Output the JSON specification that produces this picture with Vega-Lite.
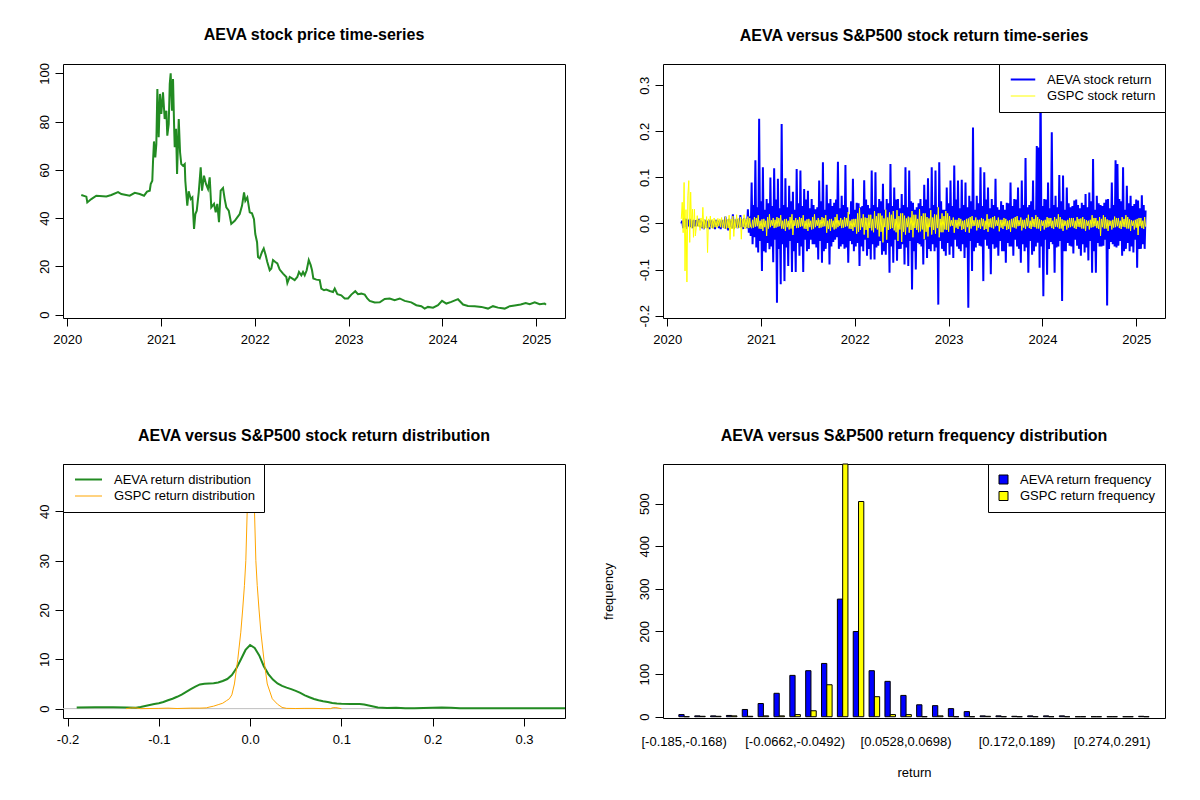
{
  "$schema": "https://vega.github.io/schema/vega-lite/v6.json",
  "padding": {"left": 37, "top": 26, "right": 5, "bottom": 5},
  "config": {
    "font": "Liberation Sans",
    "view": {"stroke": "black", "strokeWidth": 1},
    "axis": {
      "domain": false, "grid": false, "tickColor": "black", "tickSize": 8,
      "labelColor": "black", "labelFontSize": 13, "labelFont": "Liberation Sans",
      "labelFlush": false, "labelOverlap": false, "labelPadding": 7,
      "titleFont": "Liberation Sans", "titleFontSize": 13, "titleFontWeight": "normal", "titleColor": "black"
    },
    "axisY": {"labelAngle": -90, "labelAlign": "center", "labelBaseline": "bottom", "labelPadding": 4},
    "title": {"font": "Liberation Sans", "fontSize": 16, "fontWeight": "bold", "color": "black", "offset": 20, "anchor": "middle"},
    "legend": {"labelFont": "Liberation Sans", "labelFontSize": 13, "labelColor": "black"}
  },
  "columns": 2,
  "spacing": {"row": 146, "column": 98},
  "bounds": "flush",
  "resolve": {
    "scale": {"x": "independent", "y": "independent", "color": "independent", "strokeWidth": "independent", "xOffset": "independent"},
    "axis": {"x": "independent", "y": "independent"},
    "legend": {"color": "independent", "strokeWidth": "independent"}
  },
  "concat": [
    {
      "width": 502, "height": 254,
      "title": "AEVA stock price time-series",
      "data": {"values": [
        {"t":2020.150,"p":49.6},{"t":2020.204,"p":48.9},{"t":2020.214,"p":46.5},{"t":2020.257,"p":47.9},{"t":2020.310,"p":49.3},
        {"t":2020.417,"p":49.0},{"t":2020.470,"p":49.6},{"t":2020.542,"p":50.8},{"t":2020.577,"p":50.0},{"t":2020.666,"p":49.3},
        {"t":2020.720,"p":50.5},{"t":2020.773,"p":50.0},{"t":2020.819,"p":49.3},{"t":2020.851,"p":51.0},{"t":2020.880,"p":51.4},
        {"t":2020.890,"p":54.1},{"t":2020.907,"p":55.5},{"t":2020.915,"p":63.8},{"t":2020.925,"p":71.8},{"t":2020.939,"p":65.2},
        {"t":2020.950,"p":70.7},{"t":2020.961,"p":93.5},{"t":2020.975,"p":73.5},{"t":2020.989,"p":91.5},{"t":2021.003,"p":83.2},
        {"t":2021.021,"p":92.2},{"t":2021.039,"p":81.1},{"t":2021.057,"p":84.5},{"t":2021.067,"p":74.2},{"t":2021.082,"p":79.0},
        {"t":2021.093,"p":95.6},{"t":2021.103,"p":100.0},{"t":2021.117,"p":84.5},{"t":2021.128,"p":97.7},{"t":2021.139,"p":79.0},
        {"t":2021.146,"p":69.4},{"t":2021.160,"p":77.0},{"t":2021.171,"p":58.3},{"t":2021.189,"p":81.1},{"t":2021.203,"p":67.3},
        {"t":2021.216,"p":62.4},{"t":2021.235,"p":61.7},{"t":2021.253,"p":62.4},{"t":2021.259,"p":55.5},{"t":2021.280,"p":45.2},
        {"t":2021.295,"p":51.1},{"t":2021.317,"p":47.9},{"t":2021.334,"p":48.6},{"t":2021.352,"p":35.5},{"t":2021.366,"p":41.7},
        {"t":2021.381,"p":43.1},{"t":2021.402,"p":50.7},{"t":2021.423,"p":61.1},{"t":2021.437,"p":51.4},{"t":2021.458,"p":57.6},
        {"t":2021.480,"p":54.1},{"t":2021.501,"p":52.1},{"t":2021.519,"p":56.9},{"t":2021.536,"p":44.5},{"t":2021.565,"p":45.9},
        {"t":2021.583,"p":42.4},{"t":2021.600,"p":45.9},{"t":2021.618,"p":38.3},{"t":2021.636,"p":51.4},{"t":2021.661,"p":52.5},
        {"t":2021.679,"p":47.9},{"t":2021.696,"p":44.5},{"t":2021.722,"p":43.1},{"t":2021.749,"p":37.6},{"t":2021.786,"p":38.9},
        {"t":2021.813,"p":40.3},{"t":2021.839,"p":41.7},{"t":2021.864,"p":45.2},{"t":2021.885,"p":50.7},{"t":2021.899,"p":47.2},
        {"t":2021.920,"p":48.6},{"t":2021.946,"p":42.4},{"t":2021.970,"p":42.0},{"t":2021.991,"p":39.6},{"t":2022.005,"p":33.4},
        {"t":2022.024,"p":30.0},{"t":2022.034,"p":23.9},{"t":2022.052,"p":23.3},{"t":2022.077,"p":26.0},{"t":2022.095,"p":27.4},
        {"t":2022.116,"p":24.6},{"t":2022.133,"p":21.8},{"t":2022.159,"p":18.4},{"t":2022.176,"p":19.1},{"t":2022.194,"p":22.6},
        {"t":2022.219,"p":21.8},{"t":2022.240,"p":21.2},{"t":2022.265,"p":18.7},{"t":2022.301,"p":17.0},{"t":2022.336,"p":15.6},
        {"t":2022.347,"p":13.1},{"t":2022.372,"p":15.6},{"t":2022.397,"p":15.0},{"t":2022.425,"p":14.3},{"t":2022.453,"p":15.6},
        {"t":2022.471,"p":17.7},{"t":2022.496,"p":16.3},{"t":2022.514,"p":17.7},{"t":2022.532,"p":16.3},{"t":2022.553,"p":18.4},
        {"t":2022.575,"p":22.6},{"t":2022.596,"p":20.5},{"t":2022.610,"p":18.4},{"t":2022.624,"p":15.0},{"t":2022.656,"p":14.5},
        {"t":2022.692,"p":14.3},{"t":2022.709,"p":10.8},{"t":2022.738,"p":10.1},{"t":2022.762,"p":10.4},{"t":2022.799,"p":9.8},
        {"t":2022.834,"p":9.4},{"t":2022.852,"p":10.8},{"t":2022.880,"p":8.5},{"t":2022.922,"p":8.0},{"t":2022.958,"p":6.7},
        {"t":2022.994,"p":6.7},{"t":2023.029,"p":8.3},{"t":2023.071,"p":9.7},{"t":2023.100,"p":8.5},{"t":2023.135,"p":8.7},
        {"t":2023.172,"p":8.3},{"t":2023.199,"p":6.7},{"t":2023.225,"p":5.7},{"t":2023.278,"p":5.0},{"t":2023.332,"p":5.1},
        {"t":2023.385,"p":6.5},{"t":2023.438,"p":6.7},{"t":2023.491,"p":6.0},{"t":2023.545,"p":6.7},{"t":2023.598,"p":5.7},
        {"t":2023.668,"p":5.1},{"t":2023.722,"p":3.9},{"t":2023.775,"p":3.5},{"t":2023.811,"p":2.5},{"t":2023.846,"p":3.2},
        {"t":2023.900,"p":2.9},{"t":2023.953,"p":3.9},{"t":2023.996,"p":5.7},{"t":2024.042,"p":4.6},{"t":2024.095,"p":5.3},
        {"t":2024.166,"p":6.4},{"t":2024.220,"p":4.2},{"t":2024.273,"p":3.6},{"t":2024.344,"p":3.5},{"t":2024.415,"p":3.2},
        {"t":2024.486,"p":2.5},{"t":2024.539,"p":3.5},{"t":2024.593,"p":2.9},{"t":2024.664,"p":2.5},{"t":2024.718,"p":3.5},
        {"t":2024.771,"p":3.8},{"t":2024.835,"p":4.2},{"t":2024.888,"p":4.8},{"t":2024.931,"p":4.3},{"t":2024.984,"p":5.1},
        {"t":2025.037,"p":4.3},{"t":2025.090,"p":4.6},{"t":2025.104,"p":4.1}
      ]},
      "mark": {"type": "line", "color": "#228B22", "strokeWidth": 2},
      "encoding": {
        "x": {"field": "t", "type": "quantitative", "scale": {"domain": [2019.955, 2025.307], "nice": false, "zero": false},
              "axis": {"values": [2020, 2021, 2022, 2023, 2024, 2025], "format": "d", "title": null}},
        "y": {"field": "p", "type": "quantitative", "scale": {"domain": [-1.4, 103.9], "nice": false, "zero": false},
              "axis": {"values": [0, 20, 40, 60, 80, 100], "title": null}}
      }
    },
    {
      "width": 502, "height": 254,
      "title": "AEVA versus S&P500 stock return time-series",
      "data": {"values": [
        {"t":2020.15,"a":0.000,"g":0.010},{"t":2020.16,"a":0.006,"g":0.046},{"t":2020.17,"a":-0.010,"g":-0.020},{"t":2020.18,"a":0.012,"g":0.089},
        {"t":2020.19,"a":-0.008,"g":-0.103},{"t":2020.20,"a":0.010,"g":0.030},{"t":2020.21,"a":-0.012,"g":-0.127},{"t":2020.22,"a":0.008,"g":0.060},
        {"t":2020.23,"a":-0.006,"g":0.093},{"t":2020.24,"a":0.010,"g":-0.041},{"t":2020.25,"a":-0.008,"g":0.068},{"t":2020.26,"a":0.006,"g":-0.010},
        {"t":2020.27,"a":-0.010,"g":0.031},{"t":2020.28,"a":0.008,"g":-0.030},{"t":2020.29,"a":-0.006,"g":0.031},{"t":2020.30,"a":0.007,"g":-0.027},
        {"t":2020.31,"a":-0.006,"g":-0.008},{"t":2020.32,"a":0.008,"g":0.017},{"t":2020.33,"a":-0.005,"g":-0.007},{"t":2020.34,"a":0.010,"g":0.009},
        {"t":2020.35,"a":-0.008,"g":-0.015},{"t":2020.36,"a":0.006,"g":0.012},{"t":2020.37,"a":-0.010,"g":-0.009},{"t":2020.38,"a":0.004,"g":0.035},
        {"t":2020.39,"a":-0.012,"g":-0.012},{"t":2020.40,"a":0.008,"g":0.008},{"t":2020.41,"a":-0.005,"g":-0.010},{"t":2020.42,"a":0.006,"g":0.015},
        {"t":2020.43,"a":-0.010,"g":-0.063},{"t":2020.44,"a":0.004,"g":0.010},{"t":2020.45,"a":-0.012,"g":-0.008},{"t":2020.46,"a":0.008,"g":0.016},
        {"t":2020.47,"a":-0.005,"g":-0.010},{"t":2020.48,"a":0.006,"g":0.009},{"t":2020.49,"a":-0.010,"g":-0.011},{"t":2020.50,"a":0.004,"g":0.012},
        {"t":2020.51,"a":-0.012,"g":-0.008},{"t":2020.52,"a":0.008,"g":0.007},{"t":2020.53,"a":-0.005,"g":-0.009},{"t":2020.54,"a":0.006,"g":0.011},
        {"t":2020.55,"a":-0.010,"g":-0.006},{"t":2020.56,"a":0.004,"g":0.010},{"t":2020.57,"a":-0.012,"g":-0.008},{"t":2020.58,"a":0.008,"g":0.013},
        {"t":2020.59,"a":-0.005,"g":-0.009},{"t":2020.60,"a":0.006,"g":0.008},{"t":2020.61,"a":-0.010,"g":-0.011},{"t":2020.62,"a":0.015,"g":0.015},
        {"t":2020.63,"a":-0.012,"g":-0.012},{"t":2020.64,"a":0.008,"g":0.009},{"t":2020.65,"a":-0.015,"g":-0.010},{"t":2020.66,"a":0.010,"g":0.018},
        {"t":2020.67,"a":-0.008,"g":-0.035},{"t":2020.68,"a":0.006,"g":0.010},{"t":2020.69,"a":-0.010,"g":-0.012},{"t":2020.70,"a":0.020,"g":0.016},
        {"t":2020.71,"a":-0.012,"g":-0.028},{"t":2020.72,"a":0.008,"g":0.009},{"t":2020.73,"a":-0.006,"g":-0.010},{"t":2020.74,"a":0.010,"g":0.019},
        {"t":2020.75,"a":-0.010,"g":-0.010},{"t":2020.76,"a":0.006,"g":0.011},{"t":2020.77,"a":-0.008,"g":-0.009},{"t":2020.78,"a":0.018,"g":0.014},
        {"t":2020.79,"a":-0.008,"g":-0.034},{"t":2020.80,"a":0.006,"g":0.010},{"t":2020.81,"a":-0.012,"g":-0.008},{"t":2020.82,"a":0.012,"g":0.019},
        {"t":2020.83,"a":-0.006,"g":-0.012},{"t":2020.84,"a":0.008,"g":0.010},{"t":2020.85,"a":-0.010,"g":-0.009},{"t":2020.86,"a":0.031,"g":0.015},
        {"t":2020.87,"a":-0.020,"g":-0.010},{"t":2020.88,"a":0.015,"g":0.012},{"t":2020.89,"a":-0.027,"g":-0.008},
        {"t":2020.90,"a":0.089,"g":-0.010},{"t":2020.91,"a":-0.045,"g":0.008},{"t":2020.92,"a":0.040,"g":-0.009},{"t":2020.93,"a":-0.030,"g":0.014},
        {"t":2020.94,"a":0.137,"g":-0.007},{"t":2020.95,"a":-0.052,"g":0.012},{"t":2020.96,"a":0.035,"g":-0.006},{"t":2020.97,"a":-0.063,"g":0.018},
        {"t":2020.98,"a":0.227,"g":-0.011},{"t":2020.99,"a":-0.038,"g":0.006},{"t":2021.00,"a":0.048,"g":-0.012},{"t":2021.01,"a":-0.103,"g":0.009},
        {"t":2021.02,"a":0.122,"g":-0.016},{"t":2021.03,"a":-0.060,"g":0.010},{"t":2021.04,"a":0.030,"g":-0.008},{"t":2021.05,"a":-0.063,"g":0.006},
        {"t":2021.06,"a":0.053,"g":-0.027},{"t":2021.07,"a":-0.042,"g":0.014},{"t":2021.08,"a":0.044,"g":-0.011},{"t":2021.09,"a":-0.056,"g":0.020},
        {"t":2021.10,"a":0.100,"g":-0.008},{"t":2021.11,"a":-0.050,"g":0.007},{"t":2021.12,"a":0.038,"g":-0.005},{"t":2021.13,"a":-0.084,"g":0.012},
        {"t":2021.14,"a":0.120,"g":-0.010},{"t":2021.15,"a":-0.035,"g":0.008},{"t":2021.16,"a":0.052,"g":-0.009},{"t":2021.17,"a":-0.172,"g":0.014},
        {"t":2021.18,"a":0.097,"g":-0.007},{"t":2021.19,"a":-0.055,"g":0.012},{"t":2021.20,"a":0.033,"g":-0.006},{"t":2021.21,"a":-0.132,"g":0.018},
        {"t":2021.22,"a":0.216,"g":-0.011},{"t":2021.23,"a":-0.045,"g":0.006},{"t":2021.24,"a":0.040,"g":-0.012},{"t":2021.25,"a":-0.125,"g":0.009},
        {"t":2021.26,"a":0.098,"g":-0.016},{"t":2021.27,"a":-0.052,"g":0.010},{"t":2021.28,"a":0.035,"g":-0.008},{"t":2021.29,"a":-0.092,"g":0.006},
        {"t":2021.30,"a":0.082,"g":-0.013},{"t":2021.31,"a":-0.038,"g":0.014},{"t":2021.32,"a":0.048,"g":-0.011},{"t":2021.33,"a":-0.105,"g":0.020},
        {"t":2021.34,"a":0.069,"g":-0.025},{"t":2021.35,"a":-0.060,"g":0.007},{"t":2021.36,"a":0.030,"g":-0.005},{"t":2021.37,"a":-0.105,"g":0.012},
        {"t":2021.38,"a":0.118,"g":-0.010},{"t":2021.39,"a":-0.042,"g":0.008},{"t":2021.40,"a":0.044,"g":-0.009},{"t":2021.41,"a":-0.070,"g":0.014},
        {"t":2021.42,"a":0.115,"g":-0.007},{"t":2021.43,"a":-0.050,"g":0.012},{"t":2021.44,"a":0.038,"g":-0.006},{"t":2021.45,"a":-0.105,"g":0.018},
        {"t":2021.46,"a":0.075,"g":-0.011},{"t":2021.47,"a":-0.035,"g":0.006},{"t":2021.48,"a":0.052,"g":-0.012},{"t":2021.49,"a":-0.060,"g":0.009},
        {"t":2021.50,"a":0.071,"g":-0.016},{"t":2021.51,"a":-0.055,"g":0.010},{"t":2021.52,"a":0.033,"g":-0.008},{"t":2021.53,"a":-0.035,"g":0.006},
        {"t":2021.54,"a":0.053,"g":-0.013},{"t":2021.55,"a":-0.045,"g":0.014},{"t":2021.56,"a":0.040,"g":-0.011},{"t":2021.57,"a":-0.045,"g":0.020},
        {"t":2021.58,"a":0.031,"g":-0.008},{"t":2021.59,"a":-0.052,"g":0.007},{"t":2021.60,"a":0.035,"g":-0.005},{"t":2021.61,"a":-0.078,"g":0.012},
        {"t":2021.62,"a":0.093,"g":-0.010},{"t":2021.63,"a":-0.038,"g":0.008},{"t":2021.64,"a":0.048,"g":-0.009},{"t":2021.65,"a":-0.085,"g":0.014},
        {"t":2021.66,"a":0.133,"g":-0.007},{"t":2021.67,"a":-0.060,"g":0.012},{"t":2021.68,"a":0.030,"g":-0.006},{"t":2021.69,"a":-0.055,"g":0.018},
        {"t":2021.70,"a":0.084,"g":-0.020},{"t":2021.71,"a":-0.042,"g":0.006},{"t":2021.72,"a":0.044,"g":-0.012},{"t":2021.73,"a":-0.089,"g":0.009},
        {"t":2021.74,"a":0.053,"g":-0.016},{"t":2021.75,"a":-0.050,"g":0.010},{"t":2021.76,"a":0.038,"g":-0.008},{"t":2021.77,"a":-0.040,"g":0.006},
        {"t":2021.78,"a":0.045,"g":-0.013},{"t":2021.79,"a":-0.035,"g":0.014},{"t":2021.80,"a":0.052,"g":-0.011},{"t":2021.81,"a":-0.030,"g":0.020},
        {"t":2021.82,"a":0.134,"g":-0.008},{"t":2021.83,"a":-0.055,"g":0.007},{"t":2021.84,"a":0.033,"g":-0.005},{"t":2021.85,"a":-0.050,"g":0.012},
        {"t":2021.86,"a":0.060,"g":-0.010},{"t":2021.87,"a":-0.045,"g":0.008},{"t":2021.88,"a":0.040,"g":-0.009},{"t":2021.89,"a":-0.055,"g":0.014},
        {"t":2021.90,"a":0.127,"g":-0.007},{"t":2021.91,"a":-0.052,"g":0.012},{"t":2021.92,"a":0.035,"g":-0.006},{"t":2021.93,"a":-0.085,"g":0.025},
        {"t":2021.94,"a":0.020,"g":-0.011},{"t":2021.95,"a":-0.038,"g":0.006},{"t":2021.96,"a":0.048,"g":-0.012},{"t":2021.97,"a":-0.045,"g":0.009},
        {"t":2021.98,"a":0.097,"g":-0.016},{"t":2021.99,"a":-0.060,"g":0.010},{"t":2022.00,"a":0.030,"g":-0.008},{"t":2022.01,"a":-0.050,"g":0.010},
        {"t":2022.02,"a":0.045,"g":-0.022},{"t":2022.03,"a":-0.042,"g":0.022},{"t":2022.04,"a":0.044,"g":-0.018},{"t":2022.05,"a":-0.092,"g":0.034},
        {"t":2022.06,"a":0.035,"g":-0.014},{"t":2022.07,"a":-0.050,"g":0.011},{"t":2022.08,"a":0.038,"g":-0.008},{"t":2022.09,"a":-0.060,"g":0.020},
        {"t":2022.10,"a":0.094,"g":-0.024},{"t":2022.11,"a":-0.035,"g":0.013},{"t":2022.12,"a":0.052,"g":-0.014},{"t":2022.13,"a":-0.070,"g":0.012},
        {"t":2022.14,"a":0.040,"g":-0.031},{"t":2022.15,"a":-0.055,"g":0.019},{"t":2022.16,"a":0.033,"g":-0.010},{"t":2022.17,"a":-0.078,"g":0.019},
        {"t":2022.18,"a":0.115,"g":-0.015},{"t":2022.19,"a":-0.045,"g":0.010},{"t":2022.20,"a":0.040,"g":-0.019},{"t":2022.21,"a":-0.078,"g":0.027},
        {"t":2022.22,"a":0.111,"g":-0.010},{"t":2022.23,"a":-0.052,"g":0.016},{"t":2022.24,"a":0.035,"g":-0.013},{"t":2022.25,"a":-0.048,"g":0.022},
        {"t":2022.26,"a":0.053,"g":-0.028},{"t":2022.27,"a":-0.038,"g":0.022},{"t":2022.28,"a":0.048,"g":-0.018},{"t":2022.29,"a":-0.068,"g":0.017},
        {"t":2022.30,"a":0.086,"g":-0.041},{"t":2022.31,"a":-0.060,"g":0.011},{"t":2022.32,"a":0.030,"g":-0.008},{"t":2022.33,"a":-0.068,"g":0.030},
        {"t":2022.34,"a":0.053,"g":-0.035},{"t":2022.35,"a":-0.042,"g":0.013},{"t":2022.36,"a":0.044,"g":-0.014},{"t":2022.37,"a":-0.107,"g":0.024},
        {"t":2022.38,"a":0.129,"g":-0.012},{"t":2022.39,"a":-0.050,"g":0.019},{"t":2022.40,"a":0.038,"g":-0.010},{"t":2022.41,"a":-0.085,"g":0.027},
        {"t":2022.42,"a":0.078,"g":-0.015},{"t":2022.43,"a":-0.035,"g":0.010},{"t":2022.44,"a":0.052,"g":-0.019},{"t":2022.45,"a":-0.081,"g":0.029},
        {"t":2022.46,"a":0.053,"g":-0.038},{"t":2022.47,"a":-0.055,"g":0.016},{"t":2022.48,"a":0.033,"g":-0.013},{"t":2022.49,"a":-0.055,"g":0.022},
        {"t":2022.50,"a":0.064,"g":-0.040},{"t":2022.51,"a":-0.045,"g":0.022},{"t":2022.52,"a":0.040,"g":-0.018},{"t":2022.53,"a":-0.089,"g":0.017},
        {"t":2022.54,"a":0.122,"g":-0.024},{"t":2022.55,"a":-0.052,"g":0.011},{"t":2022.56,"a":0.035,"g":-0.008},{"t":2022.57,"a":-0.092,"g":0.015},
        {"t":2022.58,"a":0.115,"g":-0.020},{"t":2022.59,"a":-0.038,"g":0.013},{"t":2022.60,"a":0.048,"g":-0.014},{"t":2022.61,"a":-0.143,"g":0.027},
        {"t":2022.62,"a":0.045,"g":-0.030},{"t":2022.63,"a":-0.060,"g":0.019},{"t":2022.64,"a":0.030,"g":-0.010},{"t":2022.65,"a":-0.100,"g":0.019},
        {"t":2022.66,"a":0.035,"g":-0.014},{"t":2022.67,"a":-0.042,"g":0.010},{"t":2022.68,"a":0.044,"g":-0.019},{"t":2022.69,"a":-0.045,"g":0.031},
        {"t":2022.70,"a":0.053,"g":-0.017},{"t":2022.71,"a":-0.050,"g":0.016},{"t":2022.72,"a":0.038,"g":-0.013},{"t":2022.73,"a":-0.089,"g":0.022},
        {"t":2022.74,"a":0.084,"g":-0.034},{"t":2022.75,"a":-0.035,"g":0.022},{"t":2022.76,"a":0.052,"g":-0.018},{"t":2022.77,"a":-0.075,"g":0.014},
        {"t":2022.78,"a":0.098,"g":-0.028},{"t":2022.79,"a":-0.055,"g":0.011},{"t":2022.80,"a":0.033,"g":-0.008},{"t":2022.81,"a":-0.060,"g":0.029},
        {"t":2022.82,"a":0.122,"g":-0.024},{"t":2022.83,"a":-0.045,"g":0.013},{"t":2022.84,"a":0.040,"g":-0.014},{"t":2022.85,"a":-0.060,"g":0.020},
        {"t":2022.86,"a":0.115,"g":-0.022},{"t":2022.87,"a":-0.052,"g":0.019},{"t":2022.88,"a":0.035,"g":-0.010},{"t":2022.89,"a":-0.176,"g":0.035},
        {"t":2022.90,"a":0.133,"g":-0.030},{"t":2022.91,"a":-0.038,"g":0.010},{"t":2022.92,"a":0.048,"g":-0.019},{"t":2022.93,"a":-0.055,"g":0.022},
        {"t":2022.94,"a":0.030,"g":-0.019},{"t":2022.95,"a":-0.060,"g":0.016},{"t":2022.96,"a":0.030,"g":-0.013},{"t":2022.97,"a":-0.070,"g":0.027},
        {"t":2022.98,"a":0.078,"g":-0.014},{"t":2022.99,"a":-0.042,"g":0.022},{"t":2023.00,"a":0.044,"g":-0.018},{"t":2023.01,"a":-0.068,"g":0.016},
        {"t":2023.02,"a":0.093,"g":-0.006},{"t":2023.03,"a":-0.050,"g":0.007},{"t":2023.04,"a":0.038,"g":-0.005},{"t":2023.05,"a":-0.075,"g":0.013},
        {"t":2023.06,"a":0.126,"g":-0.020},{"t":2023.07,"a":-0.035,"g":0.008},{"t":2023.08,"a":0.052,"g":-0.009},{"t":2023.09,"a":-0.050,"g":0.008},
        {"t":2023.10,"a":0.093,"g":-0.012},{"t":2023.11,"a":-0.055,"g":0.012},{"t":2023.12,"a":0.033,"g":-0.006},{"t":2023.13,"a":-0.060,"g":0.010},
        {"t":2023.14,"a":0.095,"g":-0.014},{"t":2023.15,"a":-0.045,"g":0.006},{"t":2023.16,"a":0.040,"g":-0.012},{"t":2023.17,"a":-0.075,"g":0.007},
        {"t":2023.18,"a":0.089,"g":-0.018},{"t":2023.19,"a":-0.052,"g":0.010},{"t":2023.20,"a":0.035,"g":-0.008},{"t":2023.21,"a":-0.183,"g":0.011},
        {"t":2023.22,"a":0.060,"g":-0.020},{"t":2023.23,"a":-0.038,"g":0.014},{"t":2023.24,"a":0.048,"g":-0.011},{"t":2023.25,"a":-0.103,"g":0.016},
        {"t":2023.26,"a":0.208,"g":-0.006},{"t":2023.27,"a":-0.060,"g":0.007},{"t":2023.28,"a":0.030,"g":-0.005},{"t":2023.29,"a":-0.052,"g":0.013},
        {"t":2023.30,"a":0.060,"g":-0.015},{"t":2023.31,"a":-0.042,"g":0.008},{"t":2023.32,"a":0.044,"g":-0.009},{"t":2023.33,"a":-0.048,"g":0.008},
        {"t":2023.34,"a":0.122,"g":-0.012},{"t":2023.35,"a":-0.050,"g":0.012},{"t":2023.36,"a":0.038,"g":-0.006},{"t":2023.37,"a":-0.125,"g":0.010},
        {"t":2023.38,"a":0.111,"g":-0.014},{"t":2023.39,"a":-0.035,"g":0.006},{"t":2023.40,"a":0.052,"g":-0.012},{"t":2023.41,"a":-0.048,"g":0.020},
        {"t":2023.42,"a":0.078,"g":-0.018},{"t":2023.43,"a":-0.055,"g":0.010},{"t":2023.44,"a":0.033,"g":-0.008},{"t":2023.45,"a":-0.110,"g":0.011},
        {"t":2023.46,"a":0.053,"g":-0.009},{"t":2023.47,"a":-0.045,"g":0.014},{"t":2023.48,"a":0.040,"g":-0.011},{"t":2023.49,"a":-0.055,"g":0.016},
        {"t":2023.50,"a":0.097,"g":-0.006},{"t":2023.51,"a":-0.052,"g":0.007},{"t":2023.52,"a":0.035,"g":-0.005},{"t":2023.53,"a":-0.070,"g":0.013},
        {"t":2023.54,"a":0.030,"g":-0.017},{"t":2023.55,"a":-0.038,"g":0.008},{"t":2023.56,"a":0.048,"g":-0.009},{"t":2023.57,"a":-0.060,"g":0.008},
        {"t":2023.58,"a":0.040,"g":-0.012},{"t":2023.59,"a":-0.060,"g":0.012},{"t":2023.60,"a":0.030,"g":-0.006},{"t":2023.61,"a":-0.085,"g":0.010},
        {"t":2023.62,"a":0.045,"g":-0.014},{"t":2023.63,"a":-0.042,"g":0.006},{"t":2023.64,"a":0.044,"g":-0.012},{"t":2023.65,"a":-0.050,"g":0.007},
        {"t":2023.66,"a":0.089,"g":-0.018},{"t":2023.67,"a":-0.050,"g":0.010},{"t":2023.68,"a":0.038,"g":-0.008},{"t":2023.69,"a":-0.070,"g":0.011},
        {"t":2023.70,"a":0.053,"g":-0.009},{"t":2023.71,"a":-0.035,"g":0.014},{"t":2023.72,"a":0.052,"g":-0.011},{"t":2023.73,"a":-0.050,"g":0.016},
        {"t":2023.74,"a":0.078,"g":-0.006},{"t":2023.75,"a":-0.055,"g":0.007},{"t":2023.76,"a":0.033,"g":-0.005},{"t":2023.77,"a":-0.085,"g":0.013},
        {"t":2023.78,"a":0.093,"g":-0.015},{"t":2023.79,"a":-0.045,"g":0.008},{"t":2023.80,"a":0.040,"g":-0.009},{"t":2023.81,"a":-0.060,"g":0.008},
        {"t":2023.82,"a":0.142,"g":-0.012},{"t":2023.83,"a":-0.052,"g":0.012},{"t":2023.84,"a":0.035,"g":-0.006},{"t":2023.85,"a":-0.107,"g":0.019},
        {"t":2023.86,"a":0.040,"g":-0.010},{"t":2023.87,"a":-0.038,"g":0.006},{"t":2023.88,"a":0.048,"g":-0.012},{"t":2023.89,"a":-0.068,"g":0.014},
        {"t":2023.90,"a":0.093,"g":-0.007},{"t":2023.91,"a":-0.060,"g":0.010},{"t":2023.92,"a":0.030,"g":-0.008},{"t":2023.93,"a":-0.050,"g":0.018},
        {"t":2023.94,"a":0.168,"g":-0.011},{"t":2023.95,"a":-0.042,"g":0.014},{"t":2023.96,"a":0.165,"g":-0.011},{"t":2023.97,"a":-0.096,"g":0.009},
        {"t":2023.98,"a":0.325,"g":-0.016},{"t":2023.99,"a":-0.050,"g":0.007},{"t":2024.00,"a":0.038,"g":-0.005},{"t":2024.01,"a":-0.158,"g":0.006},
        {"t":2024.02,"a":0.053,"g":-0.013},{"t":2024.03,"a":-0.035,"g":0.008},{"t":2024.04,"a":0.052,"g":-0.009},{"t":2024.05,"a":-0.111,"g":0.014},
        {"t":2024.06,"a":0.089,"g":-0.008},{"t":2024.07,"a":-0.055,"g":0.012},{"t":2024.08,"a":0.033,"g":-0.006},{"t":2024.09,"a":-0.040,"g":0.012},
        {"t":2024.10,"a":0.198,"g":-0.010},{"t":2024.11,"a":-0.045,"g":0.006},{"t":2024.12,"a":0.040,"g":-0.012},{"t":2024.13,"a":-0.107,"g":0.014},
        {"t":2024.14,"a":0.060,"g":-0.007},{"t":2024.15,"a":-0.052,"g":0.010},{"t":2024.16,"a":0.035,"g":-0.008},{"t":2024.17,"a":-0.050,"g":0.020},
        {"t":2024.18,"a":0.105,"g":-0.011},{"t":2024.19,"a":-0.038,"g":0.014},{"t":2024.20,"a":0.048,"g":-0.011},{"t":2024.21,"a":-0.168,"g":0.009},
        {"t":2024.22,"a":0.104,"g":-0.016},{"t":2024.23,"a":-0.060,"g":0.007},{"t":2024.24,"a":0.030,"g":-0.005},{"t":2024.25,"a":-0.060,"g":0.006},
        {"t":2024.26,"a":0.078,"g":-0.013},{"t":2024.27,"a":-0.042,"g":0.008},{"t":2024.28,"a":0.044,"g":-0.009},{"t":2024.29,"a":-0.048,"g":0.012},
        {"t":2024.30,"a":0.035,"g":-0.008},{"t":2024.31,"a":-0.050,"g":0.012},{"t":2024.32,"a":0.038,"g":-0.006},{"t":2024.33,"a":-0.065,"g":0.012},
        {"t":2024.34,"a":0.050,"g":-0.010},{"t":2024.35,"a":-0.035,"g":0.006},{"t":2024.36,"a":0.052,"g":-0.012},{"t":2024.37,"a":-0.048,"g":0.014},
        {"t":2024.38,"a":0.040,"g":-0.007},{"t":2024.39,"a":-0.055,"g":0.010},{"t":2024.40,"a":0.033,"g":-0.008},{"t":2024.41,"a":-0.070,"g":0.011},
        {"t":2024.42,"a":0.045,"g":-0.011},{"t":2024.43,"a":-0.045,"g":0.014},{"t":2024.44,"a":0.040,"g":-0.011},{"t":2024.45,"a":-0.063,"g":0.009},
        {"t":2024.46,"a":0.064,"g":-0.016},{"t":2024.47,"a":-0.052,"g":0.007},{"t":2024.48,"a":0.035,"g":-0.005},{"t":2024.49,"a":-0.080,"g":0.006},
        {"t":2024.50,"a":0.067,"g":-0.013},{"t":2024.51,"a":-0.038,"g":0.008},{"t":2024.52,"a":0.048,"g":-0.009},{"t":2024.53,"a":-0.107,"g":0.018},
        {"t":2024.54,"a":0.140,"g":-0.008},{"t":2024.55,"a":-0.060,"g":0.012},{"t":2024.56,"a":0.030,"g":-0.006},{"t":2024.57,"a":-0.107,"g":0.012},
        {"t":2024.58,"a":0.060,"g":-0.010},{"t":2024.59,"a":-0.042,"g":0.006},{"t":2024.60,"a":0.044,"g":-0.012},{"t":2024.61,"a":-0.050,"g":0.014},
        {"t":2024.62,"a":0.040,"g":-0.027},{"t":2024.63,"a":-0.050,"g":0.010},{"t":2024.64,"a":0.038,"g":-0.008},{"t":2024.65,"a":-0.048,"g":0.018},
        {"t":2024.66,"a":0.045,"g":-0.011},{"t":2024.67,"a":-0.035,"g":0.014},{"t":2024.68,"a":0.052,"g":-0.011},{"t":2024.69,"a":-0.178,"g":0.009},
        {"t":2024.70,"a":0.053,"g":-0.016},{"t":2024.71,"a":-0.055,"g":0.007},{"t":2024.72,"a":0.033,"g":-0.005},{"t":2024.73,"a":-0.040,"g":0.006},
        {"t":2024.74,"a":0.089,"g":-0.013},{"t":2024.75,"a":-0.045,"g":0.008},{"t":2024.76,"a":0.040,"g":-0.009},{"t":2024.77,"a":-0.050,"g":0.015},
        {"t":2024.78,"a":0.137,"g":-0.008},{"t":2024.79,"a":-0.052,"g":0.012},{"t":2024.80,"a":0.129,"g":-0.006},{"t":2024.81,"a":-0.048,"g":0.012},
        {"t":2024.82,"a":0.053,"g":-0.010},{"t":2024.83,"a":-0.038,"g":0.006},{"t":2024.84,"a":0.048,"g":-0.012},{"t":2024.85,"a":-0.070,"g":0.014},
        {"t":2024.86,"a":0.122,"g":-0.007},{"t":2024.87,"a":-0.060,"g":0.010},{"t":2024.88,"a":0.030,"g":-0.008},{"t":2024.89,"a":-0.055,"g":0.018},
        {"t":2024.90,"a":0.082,"g":-0.011},{"t":2024.91,"a":-0.042,"g":0.014},{"t":2024.92,"a":0.044,"g":-0.011},{"t":2024.93,"a":-0.060,"g":0.009},
        {"t":2024.94,"a":0.060,"g":-0.016},{"t":2024.95,"a":-0.050,"g":0.007},{"t":2024.96,"a":0.038,"g":-0.005},{"t":2024.97,"a":-0.063,"g":0.006},
        {"t":2024.98,"a":0.042,"g":-0.013},{"t":2024.99,"a":-0.035,"g":0.008},{"t":2025.00,"a":0.052,"g":-0.009},{"t":2025.01,"a":-0.096,"g":0.010},
        {"t":2025.02,"a":0.050,"g":-0.025},{"t":2025.03,"a":-0.055,"g":0.012},{"t":2025.04,"a":0.033,"g":-0.006},{"t":2025.05,"a":-0.055,"g":0.012},
        {"t":2025.06,"a":0.061,"g":-0.010},{"t":2025.07,"a":-0.045,"g":0.006},{"t":2025.08,"a":0.040,"g":-0.012},{"t":2025.09,"a":-0.055,"g":0.014},
        {"t":2025.10,"a":0.028,"g":-0.007}
      ]},
      "transform": [{"fold": ["a", "g"], "as": ["k", "r"]}],
      "mark": {"type": "line"},
      "encoding": {
        "x": {"field": "t", "type": "quantitative", "scale": {"domain": [2019.955, 2025.307], "nice": false, "zero": false},
              "axis": {"values": [2020, 2021, 2022, 2023, 2024, 2025], "format": "d", "title": null}},
        "y": {"field": "r", "type": "quantitative", "scale": {"domain": [-0.205, 0.346], "nice": false, "zero": false},
              "axis": {"values": [-0.2, -0.1, 0, 0.1, 0.2, 0.3], "title": null, "labelExpr": "replace(format(datum.value, '.1f'), '\u2212', '-')"}},
        "color": {"field": "k", "type": "nominal", "scale": {"domain": ["a", "g"], "range": ["#0000FF", "#FFFF00"]},
                  "legend": {"title": null, "orient": "top-right", "offset": 0, "padding": 9, "rowPadding": 2.5,
                             "strokeColor": "black", "fillColor": "white", "symbolType": "M-2.45,0H2.45", "symbolSize": 100,
                             "labelOffset": 26, "labelFontSize": 13,
                             "labelExpr": "datum.label == 'a' ? 'AEVA stock return' : 'GSPC stock return'",
                             "encode": {"symbols": {"update": {"x": {"value": 15},
                                        "strokeWidth": {"signal": "datum.value == 'a' ? 2 : 1"}}}}}},
        "strokeWidth": {"field": "k", "type": "ordinal", "scale": {"domain": ["a", "g"], "range": [2, 1]}, "legend": null}
      }
    },
    {
      "width": 502, "height": 254,
      "title": "AEVA versus S&P500 stock return distribution",
      "data": {"values": [
        {"s":"a","x":-0.190,"y":0.25},{"s":"a","x":-0.170,"y":0.28},{"s":"a","x":-0.150,"y":0.28},{"s":"a","x":-0.135,"y":0.25},
        {"s":"a","x":-0.125,"y":0.20},{"s":"a","x":-0.120,"y":0.35},{"s":"a","x":-0.115,"y":0.55},{"s":"a","x":-0.110,"y":0.75},
        {"s":"a","x":-0.105,"y":0.95},{"s":"a","x":-0.100,"y":1.1},{"s":"a","x":-0.095,"y":1.35},{"s":"a","x":-0.090,"y":1.7},
        {"s":"a","x":-0.085,"y":2.0},{"s":"a","x":-0.080,"y":2.4},{"s":"a","x":-0.075,"y":2.85},{"s":"a","x":-0.070,"y":3.4},
        {"s":"a","x":-0.065,"y":3.95},{"s":"a","x":-0.060,"y":4.45},{"s":"a","x":-0.055,"y":4.9},{"s":"a","x":-0.050,"y":5.05},
        {"s":"a","x":-0.045,"y":5.1},{"s":"a","x":-0.040,"y":5.15},{"s":"a","x":-0.035,"y":5.3},{"s":"a","x":-0.030,"y":5.6},
        {"s":"a","x":-0.025,"y":6.0},{"s":"a","x":-0.020,"y":6.8},{"s":"a","x":-0.015,"y":8.2},{"s":"a","x":-0.010,"y":10.0},
        {"s":"a","x":-0.005,"y":11.9},{"s":"a","x":0.000,"y":12.9},{"s":"a","x":0.005,"y":12.3},{"s":"a","x":0.010,"y":10.8},
        {"s":"a","x":0.015,"y":8.6},{"s":"a","x":0.020,"y":7.0},{"s":"a","x":0.025,"y":5.9},{"s":"a","x":0.030,"y":5.1},
        {"s":"a","x":0.035,"y":4.6},{"s":"a","x":0.040,"y":4.25},{"s":"a","x":0.045,"y":3.95},{"s":"a","x":0.050,"y":3.6},
        {"s":"a","x":0.055,"y":3.2},{"s":"a","x":0.060,"y":2.7},{"s":"a","x":0.065,"y":2.3},{"s":"a","x":0.070,"y":1.95},
        {"s":"a","x":0.075,"y":1.7},{"s":"a","x":0.080,"y":1.5},{"s":"a","x":0.085,"y":1.35},{"s":"a","x":0.090,"y":1.15},
        {"s":"a","x":0.095,"y":1.05},{"s":"a","x":0.100,"y":1.0},{"s":"a","x":0.110,"y":0.95},{"s":"a","x":0.120,"y":0.95},
        {"s":"a","x":0.125,"y":0.85},{"s":"a","x":0.130,"y":0.65},{"s":"a","x":0.135,"y":0.45},{"s":"a","x":0.140,"y":0.25},
        {"s":"a","x":0.150,"y":0.15},{"s":"a","x":0.160,"y":0.2},{"s":"a","x":0.170,"y":0.1},{"s":"a","x":0.180,"y":0.1},
        {"s":"a","x":0.200,"y":0.2},{"s":"a","x":0.210,"y":0.25},{"s":"a","x":0.220,"y":0.2},{"s":"a","x":0.230,"y":0.1},
        {"s":"a","x":0.250,"y":0.1},{"s":"a","x":0.300,"y":0.1},{"s":"a","x":0.345,"y":0.1},
        {"s":"g","x":-0.136,"y":0.0},{"s":"g","x":-0.130,"y":0.15},{"s":"g","x":-0.125,"y":0.15},{"s":"g","x":-0.120,"y":0.0},
        {"s":"g","x":-0.100,"y":0.05},{"s":"g","x":-0.090,"y":0.1},{"s":"g","x":-0.080,"y":0.02},{"s":"g","x":-0.065,"y":0.1},
        {"s":"g","x":-0.055,"y":0.1},{"s":"g","x":-0.048,"y":0.15},{"s":"g","x":-0.045,"y":0.3},{"s":"g","x":-0.040,"y":0.5},
        {"s":"g","x":-0.035,"y":0.8},{"s":"g","x":-0.030,"y":1.1},{"s":"g","x":-0.026,"y":1.6},{"s":"g","x":-0.0227,"y":2.0},
        {"s":"g","x":-0.020,"y":2.8},{"s":"g","x":-0.0172,"y":5.0},{"s":"g","x":-0.0135,"y":10.0},{"s":"g","x":-0.0102,"y":15.5},
        {"s":"g","x":-0.0082,"y":20.0},{"s":"g","x":-0.0062,"y":25.0},{"s":"g","x":-0.0047,"y":30.0},{"s":"g","x":-0.0032,"y":40.0},
        {"s":"g","x":-0.0012,"y":46.0},{"s":"g","x":0.0008,"y":47.7},{"s":"g","x":0.0028,"y":46.0},{"s":"g","x":0.0048,"y":40.0},
        {"s":"g","x":0.0063,"y":30.0},{"s":"g","x":0.0078,"y":25.0},{"s":"g","x":0.0098,"y":20.0},{"s":"g","x":0.0118,"y":15.5},
        {"s":"g","x":0.0151,"y":10.0},{"s":"g","x":0.0188,"y":5.0},{"s":"g","x":0.0243,"y":2.0},{"s":"g","x":0.030,"y":0.9},
        {"s":"g","x":0.035,"y":0.25},{"s":"g","x":0.040,"y":0.05},{"s":"g","x":0.050,"y":0.02},{"s":"g","x":0.060,"y":0.05},
        {"s":"g","x":0.070,"y":0.05},{"s":"g","x":0.080,"y":0.0},{"s":"g","x":0.088,"y":0.0},{"s":"g","x":0.091,"y":0.2},
        {"s":"g","x":0.094,"y":0.2},{"s":"g","x":0.100,"y":0.0}
      ]},
      "layer": [
        {
          "data": {"values": [{"z": 0}]},
          "mark": {"type": "rule", "color": "#BEBEBE", "strokeWidth": 1},
          "encoding": {"y": {"field": "z", "type": "quantitative", "title": null}}
        },
        {
          "mark": {"type": "line"},
          "encoding": {
            "x": {"field": "x", "type": "quantitative", "scale": {"domain": [-0.205, 0.345], "nice": false, "zero": false},
                  "axis": {"values": [-0.2, -0.1, 0, 0.1, 0.2, 0.3], "title": null, "labelExpr": "replace(format(datum.value, '.1f'), '\u2212', '-')"}},
            "y": {"field": "y", "type": "quantitative", "scale": {"domain": [-1.9, 49.6], "nice": false, "zero": false},
                  "axis": {"values": [0, 10, 20, 30, 40], "title": null}},
            "color": {"field": "s", "type": "nominal", "scale": {"domain": ["a", "g"], "range": ["#228B22", "#FFA500"]},
                      "legend": {"title": null, "orient": "top-left", "offset": 0, "padding": 9, "rowPadding": 2.5,
                                 "strokeColor": "black", "fillColor": "white", "symbolType": "M-2.7,0H2.7", "symbolSize": 100,
                                 "labelOffset": 29, "labelFontSize": 13,
                                 "labelExpr": "datum.label == 'a' ? 'AEVA return distribution' : 'GSPC return distribution'",
                                 "encode": {"symbols": {"update": {"x": {"value": 16.5},
                                            "strokeWidth": {"signal": "datum.value == 'a' ? 2 : 1"}}}}}},
            "strokeWidth": {"field": "s", "type": "ordinal", "scale": {"domain": ["a", "g"], "range": [2, 1]}, "legend": null}
          }
        }
      ]
    },
    {
      "width": 502, "height": 254,
      "title": "AEVA versus S&P500 return frequency distribution",
      "data": {"values": [
        {"bin":"[-0.185,-0.168)","a":5,"g":0},{"bin":"[-0.168,-0.151)","a":2,"g":1},{"bin":"[-0.151,-0.134)","a":2,"g":1},
        {"bin":"[-0.134,-0.117)","a":3,"g":2},{"bin":"[-0.117,-0.1)","a":17,"g":1},{"bin":"[-0.1,-0.0832)","a":31,"g":2},
        {"bin":"[-0.0832,-0.0662)","a":55,"g":2},{"bin":"[-0.0662,-0.0492)","a":97,"g":5},{"bin":"[-0.0492,-0.0322)","a":108,"g":14},
        {"bin":"[-0.0322,-0.0152)","a":125,"g":75},{"bin":"[-0.0152,0.0018)","a":276,"g":593},{"bin":"[0.0018,0.0188)","a":200,"g":505},
        {"bin":"[0.0188,0.0358)","a":108,"g":47},{"bin":"[0.0358,0.0528)","a":83,"g":5},{"bin":"[0.0528,0.0698)","a":50,"g":5},
        {"bin":"[0.0698,0.0868)","a":28,"g":0},{"bin":"[0.0868,0.104)","a":26,"g":2},{"bin":"[0.104,0.121)","a":19,"g":0},
        {"bin":"[0.121,0.138)","a":12,"g":0},{"bin":"[0.138,0.155)","a":2,"g":1},{"bin":"[0.155,0.172)","a":2,"g":0},
        {"bin":"[0.172,0.189)","a":1,"g":0},{"bin":"[0.189,0.206)","a":2,"g":0},{"bin":"[0.206,0.223)","a":2,"g":0},
        {"bin":"[0.223,0.24)","a":2,"g":0},{"bin":"[0.24,0.257)","a":0,"g":0},{"bin":"[0.257,0.274)","a":0,"g":0},
        {"bin":"[0.274,0.291)","a":0,"g":0},{"bin":"[0.291,0.308)","a":0,"g":0},{"bin":"[0.308,0.325]","a":1,"g":0}
      ]},
      "transform": [{"fold": ["a", "g"], "as": ["k", "n"]}],
      "mark": {"type": "bar", "stroke": "black", "strokeWidth": 1},
      "encoding": {
        "x": {"field": "bin", "type": "nominal", "sort": null,
              "scale": {"paddingInner": 0.3333, "paddingOuter": 1.187},
              "axis": {"values": ["[-0.185,-0.168)", "[-0.0662,-0.0492)", "[0.0528,0.0698)", "[0.172,0.189)", "[0.274,0.291)"],
                       "ticks": false, "tickSize": 0, "labelAngle": 0, "labelPadding": 17, "labelLimit": 0,
                       "title": "return", "titlePadding": 18}},
        "xOffset": {"field": "k", "type": "nominal", "scale": {"domain": ["a", "g"], "paddingInner": 0, "paddingOuter": 0}},
        "y": {"field": "n", "type": "quantitative", "stack": null, "scale": {"domain": [-3, 593], "nice": false, "zero": false},
              "axis": {"values": [0, 100, 200, 300, 400, 500], "title": "frequency", "titlePadding": 23}},
        "color": {"field": "k", "type": "nominal", "scale": {"domain": ["a", "g"], "range": ["#0000FF", "#FFFF00"]},
                  "legend": {"title": null, "orient": "top-right", "offset": 0, "padding": 9, "rowPadding": 2.5,
                             "strokeColor": "black", "fillColor": "white", "symbolType": "square", "symbolSize": 81,
                             "symbolStrokeColor": "black", "symbolStrokeWidth": 1, "symbolOpacity": 1,
                             "labelOffset": 10, "labelFontSize": 13,
                             "labelExpr": "datum.label == 'a' ? 'AEVA return frequency' : 'GSPC return frequency'"}}
      }
    }
  ]
}
